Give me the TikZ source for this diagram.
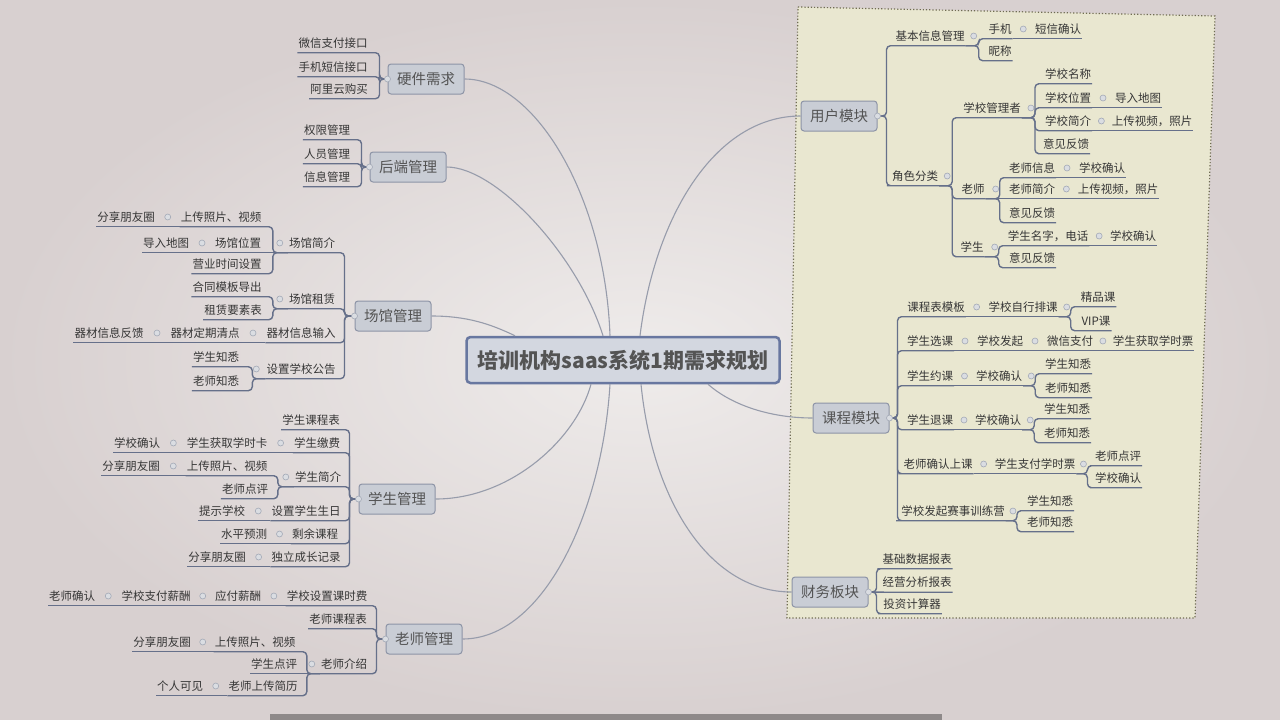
\documentclass[tikz,border=0pt]{standalone}
\usepackage{fontspec}
\newfontfamily\cjk{Noto Sans CJK SC}
\usetikzlibrary{calc}
\definecolor{bgin}{HTML}{EFECEB}
\definecolor{bgout}{HTML}{D8D0D0}
\definecolor{panelfill}{HTML}{E9E7D0}
\definecolor{panelline}{HTML}{6F6C52}
\definecolor{txt}{HTML}{363636}
\definecolor{linkc}{HTML}{66708A}
\definecolor{trunkc}{HTML}{979CAB}
\definecolor{boxfill}{HTML}{C9CDD5}
\definecolor{boxline}{HTML}{8D94A6}
\definecolor{rootfill}{HTML}{D3D7E0}
\definecolor{rootline}{HTML}{6877A0}
\definecolor{knobc}{HTML}{A3A9B6}
\definecolor{barc}{HTML}{8E8989}

\begin{document}
\begin{tikzpicture}[x=1pt, y=-1pt,
	root/.style={draw=rootline, line width=2.5pt, fill=rootfill, rounded corners=4pt, minimum width=313pt, minimum height=46pt, text=txt!85, font=\cjk\bfseries\fontsize{21}{21}\selectfont},
	topic/.style={draw=boxline, line width=1pt, fill=boxfill, rounded corners=3pt, minimum width=76pt, minimum height=30pt, inner sep=0pt, text=txt!85, font=\cjk\fontsize{14.5}{14.5}\selectfont},
	leaf/.style={inner xsep=1pt, inner ysep=0pt, text height=13.9pt, text depth=5.1pt, text=txt, font=\cjk\fontsize{11.5}{11.5}\selectfont},
	knob/.style={circle, draw=knobc, fill=knobc!40, line width=0.6pt, inner sep=0pt, minimum size=6pt},
	link/.style={draw=linkc, line width=1.4pt, rounded corners=4pt},
	trunk/.style={draw=trunkc, line width=1.1pt},
	panel/.style={draw=panelline, fill=panelfill, dotted, line width=1.2pt}]
	\useasboundingbox (0,0) rectangle (1280,720);
	\shade[inner color=bgin, outer color=bgout] (0,0) rectangle (1280,720);
	\fill[barc] (270,714) rectangle (942,720);
	\filldraw[panel] (798,7) -- (1215,16) -- (1195,618) -- (787,618) -- cycle;
	
	% Central topic
	\node[root] (root) at (623,360) {培训机构saas系统1期需求规划};
	
	% Main topics - left
	\node[topic] (hw) at (426,79) {硬件需求};
	\node[topic] (be) at (408,167) {后端管理};
	\node[topic] (ve) at (393,316) {场馆管理};
	\node[topic] (sm) at (397,499) {学生管理};
	\node[topic] (tm) at (424,639) {老师管理};
	% Main topics - right
	\node[topic] (um) at (839,116) {用户模块};
	\node[topic] (cm) at (851,418) {课程模块};
	\node[topic] (fin) at (830,592) {财务板块};
	
	% Hardware needs
	\node[leaf] (hw1) at (333,43) {微信支付接口};
	\node[leaf] (hw2) at (333,67) {手机短信接口};
	\node[leaf] (hw3) at (339,89) {阿里云购买};
	% Backend management
	\node[leaf] (be1) at (327,130) {权限管理};
	\node[leaf] (be2) at (327,154) {人员管理};
	\node[leaf] (be3) at (327,177) {信息管理};
	% Venue management
	\node[leaf] (ve1) at (312,243) {场馆简介};
	\node[leaf] (ve11) at (221,217) {上传照片、视频};
	\node[leaf] (ve111) at (126,217) {分享朋友圈};
	\node[leaf] (ve12) at (238,243) {场馆位置};
	\node[leaf] (ve121) at (166,243) {导入地图};
	\node[leaf] (ve13) at (227,264) {营业时间设置};
	\node[leaf] (ve2) at (312,299) {场馆租赁};
	\node[leaf] (ve21) at (227,287) {合同模板导出};
	\node[leaf] (ve22) at (233,310) {租赁要素表};
	\node[leaf] (ve3) at (301,333) {器材信息输入};
	\node[leaf] (ve31) at (205,333) {器材定期清点};
	\node[leaf] (ve311) at (109,333) {器材信息反馈};
	\node[leaf] (ve4) at (301,369) {设置学校公告};
	\node[leaf] (ve41) at (216,357) {学生知悉};
	\node[leaf] (ve42) at (216,381) {老师知悉};
	% Student management
	\node[leaf] (sm1) at (311,420) {学生课程表};
	\node[leaf] (sm2) at (317,443) {学生缴费};
	\node[leaf] (sm21) at (227,443) {学生获取学时卡};
	\node[leaf] (sm211) at (137,443) {学校确认};
	\node[leaf] (sm3) at (318,477) {学生简介};
	\node[leaf] (sm31) at (227,466) {上传照片、视频};
	\node[leaf] (sm311) at (131,466) {分享朋友圈};
	\node[leaf] (sm32) at (245,489) {老师点评};
	\node[leaf] (sm4) at (306,511) {设置学生生日};
	\node[leaf] (sm41) at (222,511) {提示学校};
	\node[leaf] (sm5) at (315,534) {剩余课程};
	\node[leaf] (sm51) at (244,534) {水平预测};
	\node[leaf] (sm6) at (306,557) {独立成长记录};
	\node[leaf] (sm61) at (217,557) {分享朋友圈};
	% Teacher management
	\node[leaf] (tm1) at (327,596) {学校设置课时费};
	\node[leaf] (tm11) at (238,596) {应付薪酬};
	\node[leaf] (tm111) at (156,596) {学校支付薪酬};
	\node[leaf] (tm1111) at (72,596) {老师确认};
	\node[leaf] (tm2) at (338,619) {老师课程表};
	\node[leaf] (tm3) at (344,664) {老师介绍};
	\node[leaf] (tm31) at (255,642) {上传照片、视频};
	\node[leaf] (tm311) at (162,642) {分享朋友圈};
	\node[leaf] (tm32) at (274,664) {学生点评};
	\node[leaf] (tm33) at (263,686) {老师上传简历};
	\node[leaf] (tm331) at (180,686) {个人可见};
	
	% User module
	\node[leaf] (um1) at (930,36) {基本信息管理};
	\node[leaf] (um11) at (1000,29) {手机};
	\node[leaf] (um111) at (1058,29) {短信确认};
	\node[leaf] (um12) at (1000,51) {昵称};
	\node[leaf] (um2) at (915,176) {角色分类};
	\node[leaf] (um21) at (992,108) {学校管理者};
	\node[leaf] (um211) at (1068,74) {学校名称};
	\node[leaf] (um212) at (1068,98) {学校位置};
	\node[leaf] (um2121) at (1138,98) {导入地图};
	\node[leaf] (um213) at (1068,121) {学校简介};
	\node[leaf] (um2131) at (1152,121) {上传视频，照片};
	\node[leaf] (um214) at (1066,144) {意见反馈};
	\node[leaf] (um22) at (973,189) {老师};
	\node[leaf] (um221) at (1032,168) {老师信息};
	\node[leaf] (um2211) at (1102,168) {学校确认};
	\node[leaf] (um222) at (1032,189) {老师简介};
	\node[leaf] (um2221) at (1118,189) {上传视频，照片};
	\node[leaf] (um223) at (1032,213) {意见反馈};
	\node[leaf] (um23) at (972,247) {学生};
	\node[leaf] (um231) at (1048,236) {学生名字，电话};
	\node[leaf] (um2311) at (1133,236) {学校确认};
	\node[leaf] (um232) at (1032,258) {意见反馈};
	% Course module
	\node[leaf] (cm1) at (936,307) {课程表模板};
	\node[leaf] (cm11) at (1023,307) {学校自行排课};
	\node[leaf] (cm111) at (1098,297) {精品课};
	\node[leaf] (cm112) at (1096,321) {VIP课};
	\node[leaf] (cm2) at (930,341) {学生选课};
	\node[leaf] (cm21) at (1000,341) {学校发起};
	\node[leaf] (cm211) at (1070,341) {微信支付};
	\node[leaf] (cm2111) at (1153,341) {学生获取学时票};
	\node[leaf] (cm3) at (930,376) {学生约课};
	\node[leaf] (cm31) at (999,376) {学校确认};
	\node[leaf] (cm311) at (1068,364) {学生知悉};
	\node[leaf] (cm312) at (1068,388) {老师知悉};
	\node[leaf] (cm4) at (930,420) {学生退课};
	\node[leaf] (cm41) at (998,420) {学校确认};
	\node[leaf] (cm411) at (1067,409) {学生知悉};
	\node[leaf] (cm412) at (1067,433) {老师知悉};
	\node[leaf] (cm5) at (938,464) {老师确认上课};
	\node[leaf] (cm51) at (1035,464) {学生支付学时票};
	\node[leaf] (cm511) at (1118,456) {老师点评};
	\node[leaf] (cm512) at (1118,478) {学校确认};
	\node[leaf] (cm6) at (953,511) {学校发起赛事训练营};
	\node[leaf] (cm61) at (1050,501) {学生知悉};
	\node[leaf] (cm62) at (1050,522) {老师知悉};
	% Finance module
	\node[leaf] (fin1) at (917,559) {基础数据报表};
	\node[leaf] (fin2) at (917,582.5) {经营分析报表};
	\node[leaf] (fin3) at (912,604) {投资计算器};
	
	% Curves from the central topic
	\draw[trunk] ([xshift=-13pt]root.north) .. controls +(-5,-140) and +(70,0) .. (hw.east);
	\draw[trunk] ([xshift=-20pt]root.north) .. controls +(-25,-80) and +(50,0) .. (be.east);
	\draw[trunk] ([xshift=-108pt]root.north) .. controls +(-25,-12) and +(35,0) .. (ve.east);
	\draw[trunk] ([xshift=-32pt]root.south) .. controls +(-15,55) and +(75,0) .. (sm.east);
	\draw[trunk] ([xshift=-13pt]root.south) .. controls +(-8,130) and +(80,0) .. (tm.east);
	\draw[trunk] ([xshift=17pt]root.north) .. controls +(15,-120) and +(-85,0) .. (um.west);
	\draw[trunk] ([xshift=85pt]root.south) .. controls +(25,22) and +(-40,0) .. (cm.west);
	\draw[trunk] ([xshift=18pt]root.south) .. controls +(12,120) and +(-80,0) .. (fin.west);
	
	% Hardware needs links
	\draw[link] (hw.west) -- ++(-8,0) |- (hw1.south east) -- (hw1.south west);
	\draw[link] (hw.west) -- ++(-8,0) |- (hw2.south east) -- (hw2.south west);
	\draw[link] (hw.west) -- ++(-8,0) |- (hw3.south east) -- (hw3.south west);
	% Backend links
	\draw[link] (be.west) -- ++(-8,0) |- (be1.south east) -- (be1.south west);
	\draw[link] (be.west) -- ++(-8,0) |- (be2.south east) -- (be2.south west);
	\draw[link] (be.west) -- ++(-8,0) |- (be3.south east) -- (be3.south west);
	% Venue links
	\draw[link] (ve.west) -- ++(-10,0) |- (ve1.south east) -- (ve1.south west);
	\draw[link] (ve.west) -- ++(-10,0) |- (ve2.south east) -- (ve2.south west);
	\draw[link] (ve.west) -- ++(-10,0) |- (ve3.south east) -- (ve3.south west);
	\draw[link] (ve.west) -- ++(-10,0) |- (ve4.south east) -- (ve4.south west);
	\draw[link] (ve1.south west) -- ++(-15,0) |- (ve11.south east) -- (ve11.south west);
	\draw[link] (ve11.south west) -- (ve111.south east) -- (ve111.south west) ($(ve11.west)!.5!(ve111.east)$) node[knob] {};
	\draw[link] (ve1.south west) -- (ve12.south east) -- (ve12.south west);
	\draw[link] (ve12.south west) -- (ve121.south east) -- (ve121.south west) ($(ve12.west)!.5!(ve121.east)$) node[knob] {};
	\draw[link] (ve1.south west) -- ++(-15,0) |- (ve13.south east) -- (ve13.south west);
	\draw[link] (ve2.south west) -- ++(-15,0) |- (ve21.south east) -- (ve21.south west);
	\draw[link] (ve2.south west) -- ++(-15,0) |- (ve22.south east) -- (ve22.south west);
	\draw[link] (ve3.south west) -- (ve31.south east) -- (ve31.south west) ($(ve3.west)!.5!(ve31.east)$) node[knob] {};
	\draw[link] (ve31.south west) -- (ve311.south east) -- (ve311.south west) ($(ve31.west)!.5!(ve311.east)$) node[knob] {};
	\draw[link] (ve4.south west) -- ++(-13,0) |- (ve41.south east) -- (ve41.south west);
	\draw[link] (ve4.south west) -- ++(-13,0) |- (ve42.south east) -- (ve42.south west);
	% Student links
	\draw[link] (sm.west) -- ++(-9,0) |- (sm1.south east) -- (sm1.south west);
	\draw[link] (sm.west) -- ++(-9,0) |- (sm2.south east) -- (sm2.south west);
	\draw[link] (sm.west) -- ++(-9,0) |- (sm3.south east) -- (sm3.south west);
	\draw[link] (sm.west) -- ++(-9,0) |- (sm4.south east) -- (sm4.south west);
	\draw[link] (sm.west) -- ++(-9,0) |- (sm5.south east) -- (sm5.south west);
	\draw[link] (sm.west) -- ++(-9,0) |- (sm6.south east) -- (sm6.south west);
	\draw[link] (sm2.south west) -- (sm21.south east) -- (sm21.south west) ($(sm2.west)!.5!(sm21.east)$) node[knob] {};
	\draw[link] (sm21.south west) -- (sm211.south east) -- (sm211.south west) ($(sm21.west)!.5!(sm211.east)$) node[knob] {};
	\draw[link] (sm3.south west) -- ++(-16,0) |- (sm31.south east) -- (sm31.south west);
	\draw[link] (sm31.south west) -- (sm311.south east) -- (sm311.south west) ($(sm31.west)!.5!(sm311.east)$) node[knob] {};
	\draw[link] (sm3.south west) -- ++(-16,0) |- (sm32.south east) -- (sm32.south west);
	\draw[link] (sm4.south west) -- (sm41.south east) -- (sm41.south west) ($(sm4.west)!.5!(sm41.east)$) node[knob] {};
	\draw[link] (sm5.south west) -- (sm51.south east) -- (sm51.south west) ($(sm5.west)!.5!(sm51.east)$) node[knob] {};
	\draw[link] (sm6.south west) -- (sm61.south east) -- (sm61.south west) ($(sm6.west)!.5!(sm61.east)$) node[knob] {};
	% Teacher links
	\draw[link] (tm.west) -- ++(-9,0) |- (tm1.south east) -- (tm1.south west);
	\draw[link] (tm.west) -- ++(-9,0) |- (tm2.south east) -- (tm2.south west);
	\draw[link] (tm.west) -- ++(-9,0) |- (tm3.south east) -- (tm3.south west);
	\draw[link] (tm1.south west) -- (tm11.south east) -- (tm11.south west) ($(tm1.west)!.5!(tm11.east)$) node[knob] {};
	\draw[link] (tm11.south west) -- (tm111.south east) -- (tm111.south west) ($(tm11.west)!.5!(tm111.east)$) node[knob] {};
	\draw[link] (tm111.south west) -- (tm1111.south east) -- (tm1111.south west) ($(tm111.west)!.5!(tm1111.east)$) node[knob] {};
	\draw[link] (tm3.south west) -- ++(-13,0) |- (tm31.south east) -- (tm31.south west);
	\draw[link] (tm31.south west) -- (tm311.south east) -- (tm311.south west) ($(tm31.west)!.5!(tm311.east)$) node[knob] {};
	\draw[link] (tm3.south west) -- (tm32.south east) -- (tm32.south west);
	\draw[link] (tm3.south west) -- ++(-13,0) |- (tm33.south east) -- (tm33.south west);
	\draw[link] (tm33.south west) -- (tm331.south east) -- (tm331.south west) ($(tm33.west)!.5!(tm331.east)$) node[knob] {};
	
	% User module links
	\draw[link] (um.east) -- ++(9,0) |- (um1.south west) -- (um1.south east);
	\draw[link] (um.east) -- ++(9,0) |- (um2.south west) -- (um2.south east);
	\draw[link] (um1.south east) -- ++(13,0) |- (um11.south west) -- (um11.south east);
	\draw[link] (um11.south east) -- (um111.south west) -- (um111.south east) ($(um11.east)!.5!(um111.west)$) node[knob] {};
	\draw[link] (um1.south east) -- ++(13,0) |- (um12.south west) -- (um12.south east);
	\draw[link] (um2.south east) -- ++(13,0) |- (um21.south west) -- (um21.south east);
	\draw[link] (um2.south east) -- ++(13,0) |- (um22.south west) -- (um22.south east);
	\draw[link] (um2.south east) -- ++(13,0) |- (um23.south west) -- (um23.south east);
	\draw[link] (um21.south east) -- ++(13,0) |- (um211.south west) -- (um211.south east);
	\draw[link] (um21.south east) -- ++(13,0) |- (um212.south west) -- (um212.south east);
	\draw[link] (um212.south east) -- (um2121.south west) -- (um2121.south east) ($(um212.east)!.5!(um2121.west)$) node[knob] {};
	\draw[link] (um21.south east) -- ++(13,0) |- (um213.south west) -- (um213.south east);
	\draw[link] (um213.south east) -- (um2131.south west) -- (um2131.south east) ($(um213.east)!.5!(um2131.west)$) node[knob] {};
	\draw[link] (um21.south east) -- ++(13,0) |- (um214.south west) -- (um214.south east);
	\draw[link] (um22.south east) -- ++(14,0) |- (um221.south west) -- (um221.south east);
	\draw[link] (um221.south east) -- (um2211.south west) -- (um2211.south east) ($(um221.east)!.5!(um2211.west)$) node[knob] {};
	\draw[link] (um22.south east) -- (um222.south west) -- (um222.south east);
	\draw[link] (um222.south east) -- (um2221.south west) -- (um2221.south east) ($(um222.east)!.5!(um2221.west)$) node[knob] {};
	\draw[link] (um22.south east) -- ++(14,0) |- (um223.south west) -- (um223.south east);
	\draw[link] (um23.south east) -- ++(14,0) |- (um231.south west) -- (um231.south east);
	\draw[link] (um231.south east) -- (um2311.south west) -- (um2311.south east) ($(um231.east)!.5!(um2311.west)$) node[knob] {};
	\draw[link] (um23.south east) -- ++(14,0) |- (um232.south west) -- (um232.south east);
	% Course module links
	\draw[link] (cm.east) -- ++(8,0) |- (cm1.south west) -- (cm1.south east);
	\draw[link] (cm.east) -- ++(8,0) |- (cm2.south west) -- (cm2.south east);
	\draw[link] (cm.east) -- ++(8,0) |- (cm3.south west) -- (cm3.south east);
	\draw[link] (cm.east) -- ++(8,0) |- (cm4.south west) -- (cm4.south east);
	\draw[link] (cm.east) -- ++(8,0) |- (cm5.south west) -- (cm5.south east);
	\draw[link] (cm.east) -- ++(8,0) |- (cm6.south west) -- (cm6.south east);
	\draw[link] (cm1.south east) -- (cm11.south west) -- (cm11.south east) ($(cm1.east)!.5!(cm11.west)$) node[knob] {};
	\draw[link] (cm11.south east) -- ++(12,0) |- (cm111.south west) -- (cm111.south east);
	\draw[link] (cm11.south east) -- ++(12,0) |- (cm112.south west) -- (cm112.south east);
	\draw[link] (cm2.south east) -- (cm21.south west) -- (cm21.south east) ($(cm2.east)!.5!(cm21.west)$) node[knob] {};
	\draw[link] (cm21.south east) -- (cm211.south west) -- (cm211.south east) ($(cm21.east)!.5!(cm211.west)$) node[knob] {};
	\draw[link] (cm211.south east) -- (cm2111.south west) -- (cm2111.south east) ($(cm211.east)!.5!(cm2111.west)$) node[knob] {};
	\draw[link] (cm3.south east) -- (cm31.south west) -- (cm31.south east) ($(cm3.east)!.5!(cm31.west)$) node[knob] {};
	\draw[link] (cm31.south east) -- ++(12,0) |- (cm311.south west) -- (cm311.south east);
	\draw[link] (cm31.south east) -- ++(12,0) |- (cm312.south west) -- (cm312.south east);
	\draw[link] (cm4.south east) -- (cm41.south west) -- (cm41.south east) ($(cm4.east)!.5!(cm41.west)$) node[knob] {};
	\draw[link] (cm41.south east) -- ++(12,0) |- (cm411.south west) -- (cm411.south east);
	\draw[link] (cm41.south east) -- ++(12,0) |- (cm412.south west) -- (cm412.south east);
	\draw[link] (cm5.south east) -- (cm51.south west) -- (cm51.south east) ($(cm5.east)!.5!(cm51.west)$) node[knob] {};
	\draw[link] (cm51.south east) -- ++(11,0) |- (cm511.south west) -- (cm511.south east);
	\draw[link] (cm51.south east) -- ++(11,0) |- (cm512.south west) -- (cm512.south east);
	\draw[link] (cm6.south east) -- ++(11,0) |- (cm61.south west) -- (cm61.south east);
	\draw[link] (cm6.south east) -- ++(11,0) |- (cm62.south west) -- (cm62.south east);
	% Finance links
	\draw[link] (fin.east) -- ++(8,0) |- (fin1.south west) -- (fin1.south east);
	\draw[link] (fin.east) -- (fin2.south west) -- (fin2.south east);
	\draw[link] (fin.east) -- ++(8,0) |- (fin3.south west) -- (fin3.south east);
	
	% Knobs on the branching points
	\node[knob] at (hw.west) {};
	\node[knob] at (be.west) {};
	\node[knob] at (ve.west) {};
	\node[knob] at (sm.west) {};
	\node[knob] at (tm.west) {};
	\node[knob] at (um.east) {};
	\node[knob] at (cm.east) {};
	\node[knob] at (fin.east) {};
	\node[knob] at ([xshift=-8pt]ve1.west) {};
	\node[knob] at ([xshift=-8pt]ve2.west) {};
	\node[knob] at ([xshift=-9pt]ve4.west) {};
	\node[knob] at ([xshift=-8pt]sm3.west) {};
	\node[knob] at ([xshift=-8pt]tm3.west) {};
	\node[knob] at ([xshift=8pt]um1.east) {};
	\node[knob] at ([xshift=8pt]um2.east) {};
	\node[knob] at ([xshift=9pt]um21.east) {};
	\node[knob] at ([xshift=10pt]um22.east) {};
	\node[knob] at ([xshift=10pt]um23.east) {};
	\node[knob] at ([xshift=8pt]cm11.east) {};
	\node[knob] at ([xshift=8pt]cm31.east) {};
	\node[knob] at ([xshift=8pt]cm41.east) {};
	\node[knob] at ([xshift=7pt]cm51.east) {};
	\node[knob] at ([xshift=7pt]cm6.east) {};
\end{tikzpicture}
\end{document}
